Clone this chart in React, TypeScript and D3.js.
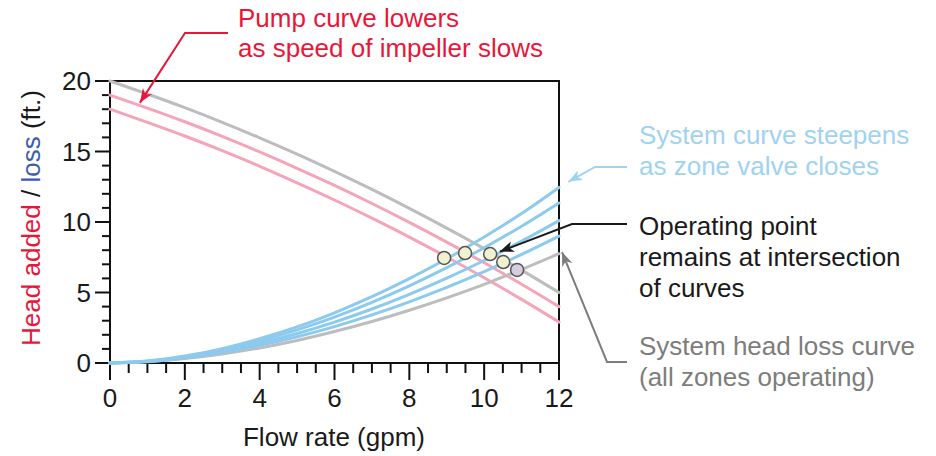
import React from "react";
import * as d3 from "d3";

// ---- data ----
const flow = [0, 1, 2, 3, 4, 5, 6, 7, 8, 9, 10, 11, 12];
const pumpFull = [20, 19.08, 18.11, 17.07, 15.97, 14.81, 13.59, 12.31, 10.97, 9.57, 8.11, 6.59, 5.0];
const pumpMid = [19, 18.08, 17.11, 16.07, 14.97, 13.81, 12.59, 11.31, 9.97, 8.57, 7.11, 5.59, 4.0];
const pumpLow = [18, 17.07, 16.1, 15.06, 13.95, 12.78, 11.56, 10.27, 8.93, 7.52, 6.05, 4.51, 2.9];
const systemAll = [0, 0.09, 0.31, 0.64, 1.07, 1.6, 2.23, 2.94, 3.74, 4.62, 5.58, 6.63, 7.75];
const systemA = [0, 0.1, 0.36, 0.74, 1.25, 1.86, 2.58, 3.41, 4.34, 5.36, 6.48, 7.7, 9.0];
const systemB = [0, 0.12, 0.4, 0.83, 1.4, 2.09, 2.9, 3.83, 4.87, 6.02, 7.27, 8.64, 10.1];
const systemC = [0, 0.13, 0.45, 0.94, 1.57, 2.35, 3.26, 4.3, 5.47, 6.76, 8.17, 9.7, 11.35];
const systemD = [0, 0.14, 0.49, 1.02, 1.72, 2.56, 3.56, 4.7, 5.98, 7.39, 8.93, 10.6, 12.45];
const opX = [8.93, 9.49, 10.16, 10.51, 10.88];
const opY = [7.45, 7.8, 7.73, 7.16, 6.6];
const xTicks = [0, 2, 4, 6, 8, 10, 12];
const yTicks = [0, 5, 10, 15, 20];

const FONT = "'Liberation Sans', Arial, Helvetica, sans-serif";
const FS = 26;
const GRAY = "#bdbdbd";
const PINK = "#f5a5b9";
const BLUE = "#8ccaee";

export default function App() {
  const x = d3.scaleLinear().domain([0, 12]).range([110, 559]);
  const y = d3.scaleLinear().domain([0, 20]).range([363, 81]);
  const line = (vals: number[]) =>
    d3
      .line<number>()
      .x((_, i) => x(flow[i]))
      .y((v) => y(v))
      .curve(d3.curveMonotoneX)(vals) as string;

  const xMinor = d3.range(0, 12.01, 0.5).filter((v) => v % 2 !== 0);
  const yMinor = d3.range(0, 20.01, 1).filter((v) => v % 5 !== 0);

  const curves: [number[], string][] = [
    [pumpLow, PINK],
    [pumpMid, PINK],
    [pumpFull, GRAY],
    [systemAll, GRAY],
    [systemA, BLUE],
    [systemB, BLUE],
    [systemC, BLUE],
    [systemD, BLUE],
  ];

  const arrowHead = (id: string, color: string) => (
    <marker
      id={id}
      viewBox="-14 -7 16 14"
      refX={0}
      refY={0}
      markerWidth={16}
      markerHeight={14}
      markerUnits="userSpaceOnUse"
      orient="auto"
    >
      <path d="M0,0 L-14,-5.5 L-10,0 L-14,5.5 Z" fill={color} />
    </marker>
  );

  return (
    <svg width={936} height={456} style={{ position: "absolute", left: 0, top: 0, background: "#fff" }} fontFamily={FONT}>
      <defs>
        {arrowHead("ar-red", "#e8173a")}
        {arrowHead("ar-blue", "#9fd3f0")}
        {arrowHead("ar-black", "#1a1a1a")}
        {arrowHead("ar-gray", "#7d7d7d")}
      </defs>
      <rect width={936} height={456} fill="#fff" />

      {/* frame */}
      <rect x={x(0)} y={y(20)} width={x(12) - x(0)} height={y(0) - y(20)} fill="none" stroke="#111" strokeWidth={2} />

      {/* x ticks */}
      {xTicks.map((t) => (
        <g key={"xt" + t}>
          <line x1={x(t)} x2={x(t)} y1={y(0)} y2={y(0) + 17} stroke="#111" strokeWidth={2} />
          <text x={x(t)} y={407} textAnchor="middle" fontSize={FS} fill="#1a1a1a">
            {t}
          </text>
        </g>
      ))}
      {xMinor.map((t) => (
        <line key={"xm" + t} x1={x(t)} x2={x(t)} y1={y(0)} y2={y(0) + 10} stroke="#111" strokeWidth={2} />
      ))}

      {/* y ticks */}
      {yTicks.map((t) => (
        <g key={"yt" + t}>
          <line x1={x(0) - 15} x2={x(0)} y1={y(t)} y2={y(t)} stroke="#111" strokeWidth={2} />
          <text x={91} y={y(t) + 9} textAnchor="end" fontSize={FS} fill="#1a1a1a">
            {t}
          </text>
        </g>
      ))}
      {yMinor.map((t) => (
        <line key={"ym" + t} x1={x(0) - 8} x2={x(0)} y1={y(t)} y2={y(t)} stroke="#111" strokeWidth={2} />
      ))}

      {/* curves */}
      {curves.map(([vals, c], i) => (
        <path key={"c" + i} d={line(vals)} fill="none" stroke={c} strokeWidth={3} strokeLinecap="round" />
      ))}

      {/* operating points */}
      {opX.map((v, i) => (
        <circle
          key={"op" + i}
          cx={x(v)}
          cy={y(opY[i])}
          r={6.5}
          fill={i === opX.length - 1 ? "#d5cde0" : "#f0f2cf"}
          stroke="#555"
          strokeWidth={1.5}
        />
      ))}

      {/* axis titles */}
      <text x={334} y={446} textAnchor="middle" fontSize={FS} fill="#1a1a1a">
        Flow rate (gpm)
      </text>
      <text transform="translate(40,218) rotate(-90)" textAnchor="middle" fontSize={FS}>
        <tspan fill="#e8173a">Head added</tspan>
        <tspan fill="#1a1a1a"> / </tspan>
        <tspan fill="#3a5db0">loss</tspan>
        <tspan fill="#1a1a1a"> (ft.)</tspan>
      </text>

      {/* red annotation */}
      <text x={238} y={27} fontSize={FS} fill="#e8173a">
        <tspan x={238}>Pump curve lowers</tspan>
        <tspan x={238} dy={30}>as speed of impeller slows</tspan>
      </text>
      <polyline
        points={`228,33 185,33 ${x(0.8)},${y(18.45)}`}
        fill="none"
        stroke="#e8173a"
        strokeWidth={2}
        markerEnd="url(#ar-red)"
      />

      {/* blue annotation */}
      <text x={639} y={144} fontSize={FS} fill="#9fd3f0">
        <tspan x={639}>System curve steepens</tspan>
        <tspan x={639} dy={31}>as zone valve closes</tspan>
      </text>
      <polyline
        points={`627,167 595,167 ${x(12.25)},${y(12.85)}`}
        fill="none"
        stroke="#9fd3f0"
        strokeWidth={2}
        markerEnd="url(#ar-blue)"
      />

      {/* black annotation */}
      <text x={639} y={235} fontSize={FS} fill="#1a1a1a">
        <tspan x={639}>Operating point</tspan>
        <tspan x={639} dy={31}>remains at intersection</tspan>
        <tspan x={639} dy={31}>of curves</tspan>
      </text>
      <polyline
        points={`627,224 572,224 ${x(10.42)},${y(7.9)}`}
        fill="none"
        stroke="#1a1a1a"
        strokeWidth={2}
        markerEnd="url(#ar-black)"
      />

      {/* gray annotation */}
      <text x={639} y={355} fontSize={FS} fill="#7d7d7d">
        <tspan x={639}>System head loss curve</tspan>
        <tspan x={639} dy={31}>(all zones operating)</tspan>
      </text>
      <polyline
        points={`627,362 607,362 ${x(12.08)},${y(7.87)}`}
        fill="none"
        stroke="#7d7d7d"
        strokeWidth={2}
        markerEnd="url(#ar-gray)"
      />
    </svg>
  );
}
